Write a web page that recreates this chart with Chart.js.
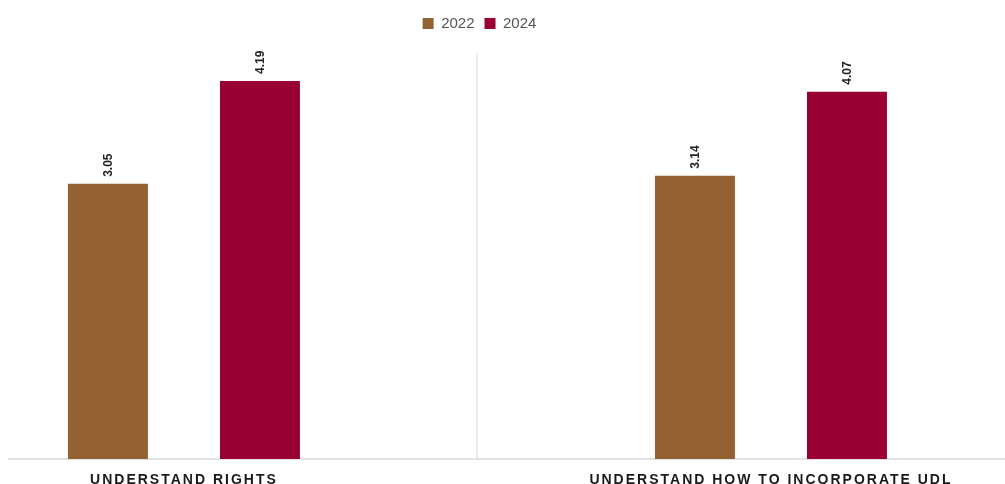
<!DOCTYPE html>
<html>
<head>
<meta charset="utf-8">
<script src="https://cdn.jsdelivr.net/npm/chart.js@4.4.1/dist/chart.umd.min.js"></script>
<style>
  html, body { margin: 0; padding: 0; background: #fff; }
  #wrap { width: 1005px; height: 484px; position: relative; }
</style>
</head>
<body>
<div id="wrap"><canvas id="chart"></canvas></div>
<script>
const categories = ['UNDERSTAND RIGHTS', 'UNDERSTAND HOW TO INCORPORATE UDL'];
const seriesNames = ['2022', '2024'];
const values2022 = [3.05, 3.14];
const values2024 = [4.19, 4.07];
const seriesColors = ['#946132', '#990033'];

// bars sit on a linear x axis so the groups can be placed like the original
const toPoints = (vals) => vals.map((v, i) => ({ x: i, y: v }));

const valueLabels = {
  id: 'valueLabels',
  afterDatasetsDraw(chart) {
    const ctx = chart.ctx;
    ctx.save();
    ctx.font = 'bold 12px "Liberation Sans", Arial, sans-serif';
    ctx.fillStyle = '#222';
    ctx.textAlign = 'left';
    ctx.textBaseline = 'middle';
    chart.data.datasets.forEach((ds, di) => {
      chart.getDatasetMeta(di).data.forEach((bar, i) => {
        ctx.save();
        ctx.translate(bar.x + 1, bar.y - 7);
        ctx.rotate(-Math.PI / 2);
        ctx.fillText(ds.data[i].y.toFixed(2), 0, 0);
        ctx.restore();
      });
    });
    ctx.restore();
    // x tick labels are drawn after the datasets (ticks.z = 1), give them tracking
    ctx.letterSpacing = '2px';
  },
  afterDraw(chart) {
    chart.ctx.letterSpacing = '0px';
  }
};

const legendSpace = {
  id: 'legendSpace',
  beforeInit(chart) {
    const fit = chart.legend.fit;
    chart.legend.fit = function () {
      fit.call(this);
      this.height += 12;
    };
  },
  afterLayout(chart) {
    // original legend sits a little left of centre
    chart.legend.left -= 27;
    chart.legend.right -= 27;
  }
};

new Chart(document.getElementById('chart'), {
  type: 'bar',
  data: {
    datasets: [
      { label: seriesNames[0], data: toPoints(values2022), backgroundColor: seriesColors[0] },
      { label: seriesNames[1], data: toPoints(values2024), backgroundColor: seriesColors[1] }
    ]
  },
  options: {
    responsive: true,
    maintainAspectRatio: false,
    animation: false,
    categoryPercentage: 1.036,
    barPercentage: 0.526,
    layout: { padding: { top: 6, left: 9, right: 1, bottom: 0 } },
    plugins: {
      legend: {
        position: 'top',
        labels: {
          boxWidth: 11,
          boxHeight: 11,
          color: '#555',
          font: { size: 15, family: '"Liberation Sans", Arial, sans-serif' }
        }
      },
      tooltip: { enabled: false }
    },
    scales: {
      x: {
        type: 'linear',
        min: -0.298,
        max: 1.397,
        offset: false,
        afterBuildTicks(scale) {
          scale.ticks = [{ value: 0 }, { value: 0.5 }, { value: 1 }];
        },
        afterFit(scale) {
          scale.height = 25;
        },
        grid: {
          offset: false,
          drawTicks: false,
          lineWidth: 2,
          color: (c) => (c.tick && c.tick.value === 0.5 ? '#ececec' : 'rgba(0,0,0,0)')
        },
        border: { color: '#e3e3e3', width: 2 },
        ticks: {
          z: 1,
          autoSkip: false,
          maxRotation: 0,
          padding: 13,
          color: '#1a1a1a',
          font: { size: 14, weight: 'bold', family: '"Liberation Sans", Arial, sans-serif' },
          callback: (v) => (Number.isInteger(v) ? categories[v] : '')
        }
      },
      y: {
        display: false,
        min: 0,
        max: 4.5
      }
    }
  },
  plugins: [valueLabels, legendSpace]
});
</script>
</body>
</html>
